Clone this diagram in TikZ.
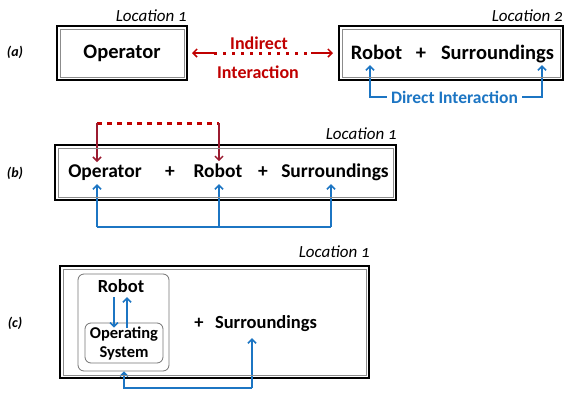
\documentclass[tikz,border=0pt]{standalone}
\usepackage{fontspec}
\setmainfont{Carlito}
\newfontfamily\locfont[Numbers=OldStyle]{Carlito}
\usetikzlibrary{arrows.meta}
\definecolor{indred}{HTML}{C00000}
\definecolor{darkred}{HTML}{9B1B30}
\definecolor{dirblue}{HTML}{1C75C3}

\begin{document}
\begin{tikzpicture}[x=1pt, y=-1pt, >={Straight Barb[length=4pt,width=8pt]},
  locbox/.style={draw=black, line width=2pt, outer sep=0pt, inner sep=0pt},
  innerframe/.style={draw=black!45, line width=1pt},
  term/.style={font=\bfseries\fontsize{#1}{#1}\selectfont, inner sep=0pt, text depth=0pt, anchor=base},
  loc/.style={font=\locfont\itshape\fontsize{17}{17}\selectfont, inner sep=0pt, anchor=base east},
  tag/.style={font=\bfseries\itshape\fontsize{14}{14}\selectfont, inner sep=0pt},
  redline/.style={indred, line width=1.5pt},
  blueline/.style={dirblue, line width=1.5pt}]

\useasboundingbox (0,0) rectangle (566,400);

% (a) two locations
\node[tag] (tagA) at (15,52) {(a)};
\node[locbox, minimum width=130pt, minimum height=54pt] (boxA1) at (122,53) {};
\node[locbox, minimum width=224pt, minimum height=54pt] (boxA2) at (451,53) {};
\node[loc] (locA1) at (187,21) {Location 1};
\node[loc] (locA2) at (563,21) {Location 2};
\node[term=20.5] (opA) at (122,58) {Operator};
\node[term=20.5] (robA) at (376.5,59) {Robot};
\node[term=20.5] (plusA) at (421,59) {+};
\node[term=20.5] (surA) at (497.5,59) {Surroundings};

% Indirect interaction
\coordinate (ia) at ([xshift=5]boxA1.east);
\coordinate (ib) at ([xshift=-6]boxA2.west);
\draw[indred, line width=3pt, dash pattern=on 3pt off 6pt] ([xshift=22]ia) -- ([xshift=-22]ib);
\draw[redline, <-] (ia) -- ++(22,0);
\draw[redline, ->] ([xshift=-22]ib) -- (ib);
\node[font=\bfseries\fontsize{18}{18}\selectfont, indred] (indA) at (259,43) {Indirect};
\node[font=\bfseries\fontsize{18}{18}\selectfont, indred] (intA) at (258,72) {Interaction};

% Direct interaction
\node[font=\bfseries\fontsize{17.5}{17.5}\selectfont, dirblue, inner sep=4pt] (dirA) at (454.5,97) {Direct Interaction};
\coordinate (robAtip) at ([shift={(-6.5,6)}]robA.south);
\coordinate (surAtip) at ([shift={(44.5,6)}]surA.south);
\draw[blueline, <-] (robAtip) |- (dirA.west);
\draw[blueline, ->] (dirA.east) -| (surAtip);

% (b) one location
\node[tag] (tagB) at (15,173) {(b)};
\node[locbox, minimum width=341pt, minimum height=55pt] (boxB) at (225.5,172.5) {};
\node[loc] (locB) at (397,139) {Location 1};
\node[term=19.5] (opB) at (105,177) {Operator};
\node[term=19.5] (plusB1) at (170,177) {+};
\node[term=19.5] (robB) at (218,177) {Robot};
\node[term=19.5] (plusB2) at (263,177) {+};
\node[term=19.5] (surB) at (335,177) {Surroundings};

% red: operator to robot
\coordinate (opBin) at ([shift={(-8,-2)}]opB.north);
\coordinate (robBin) at ([shift={(1,-2)}]robB.north);
\coordinate (opBtop) at (opBin |- 0,123);
\coordinate (robBtop) at (robBin |- 0,123);
\draw[indred, line width=3pt, dash pattern=on 5pt off 5pt] (opBtop) -- (robBtop);
\draw[darkred, line width=1.5pt, ->] (opBtop) -- (opBin);
\draw[darkred, line width=1.5pt, ->] (robBtop) -- (robBin);

% blue: everything with everything
\coordinate (opBout) at ([shift={(-8,7)}]opB.south);
\coordinate (robBout) at ([shift={(1,7)}]robB.south);
\coordinate (surBout) at ([shift={(-4,7)}]surB.south);
\coordinate (opBbot) at (opBout |- 0,227);
\coordinate (surBbot) at (surBout |- 0,227);
\draw[blueline, ->] (opBbot) -- (opBout);
\draw[blueline, ->] (robBout |- 0,227) -- (robBout);
\draw[blueline, ->] (surBbot) -- (surBout);
\draw[blueline] (opBbot) -- (surBbot);

% (c) operator inside the robot
\node[tag] (tagC) at (15,323) {(c)};
\node[locbox, minimum width=309pt, minimum height=112pt] (boxC) at (214.5,322) {};
\node[loc] (locC) at (370,257) {Location 1};
\node[draw=black!55, line width=0.8pt, rounded corners=6pt, minimum width=91pt, minimum height=97pt] (robGroup) at (123.5,322.5) {};
\node[term=18.5] (robC) at (121,292) {Robot};
\node[draw=black!55, line width=0.8pt, rounded corners=6pt, minimum width=78pt, minimum height=40pt, align=center, inner sep=0pt,
  font=\bfseries\fontsize{16.5}{19}\selectfont] (osC) at (124,343) {Operating\\System};
\node[term=18.5] (plusC) at (199,328) {+};
\node[term=18.5] (surC) at (266,328) {Surroundings};

\draw[blueline, ->] ([shift={(-7,5)}]robC.south) -- ([xshift=-10,yshift=-5]osC.north);
\draw[blueline, ->] ([xshift=3,yshift=-5]osC.north) -- ([shift={(6,5)}]robC.south);

\coordinate (surCtip) at ([shift={(-14,10)}]surC.south);
\draw[blueline, ->] (surCtip |- 0,388) -- (surCtip);
\draw[blueline, ->] (surCtip |- 0,388) -| ([xshift=0.5]robGroup.south);

% inner frames of the location boxes
\foreach \b in {boxA1,boxA2,boxB,boxC}
  \draw[innerframe] ([shift={(3,3)}]\b.north west) rectangle ([shift={(-3,-3)}]\b.south east);

\end{tikzpicture}
\end{document}
